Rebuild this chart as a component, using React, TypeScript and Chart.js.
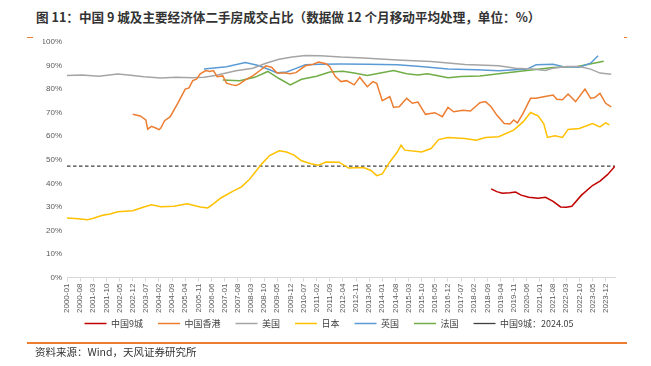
import React, { useEffect, useRef } from "react";
import { Chart, registerables } from "chart.js";

Chart.register(...registerables);

const START_YEAR = 2000;
const LAST_MONTH = "2024-05";

const tickLabels = [
  "2000-01", "2000-08", "2001-03", "2001-10", "2002-05", "2002-12", "2003-07",
  "2004-02", "2004-09", "2005-04", "2005-11", "2006-06", "2007-01", "2007-08",
  "2008-03", "2008-10", "2009-05", "2009-12", "2010-07", "2011-02", "2011-09",
  "2012-04", "2012-11", "2013-06", "2014-01", "2014-08", "2015-03", "2015-10",
  "2016-05", "2016-12", "2017-07", "2018-02", "2018-09", "2019-04", "2019-11",
  "2020-06", "2021-01", "2021-08", "2022-03", "2022-10", "2023-05", "2023-12",
];

const yTicks = [0, 10, 20, 30, 40, 50, 60, 70, 80, 90, 100];

// 中国9城
const cnDates = ["2018-11", "2019-02", "2019-05", "2019-09", "2019-12", "2020-03", "2020-07", "2020-12", "2021-04", "2021-08", "2021-12", "2022-03", "2022-06", "2022-11", "2023-05", "2023-09", "2024-01", "2024-05"];
const cnValues = [37.7, 36.5, 35.8, 36.0, 36.3, 35.0, 34.1, 33.7, 34.1, 32.4, 30.0, 29.9, 30.3, 34.9, 39.1, 41.0, 43.7, 47.3];

// 中国香港
const hkDates = ["2002-12", "2003-04", "2003-07", "2003-08", "2003-10", "2003-12", "2004-02", "2004-03", "2004-05", "2004-08", "2004-12", "2005-04", "2005-06", "2005-08", "2005-10", "2005-12", "2006-03", "2006-05", "2006-07", "2006-09", "2006-12", "2007-02", "2007-05", "2007-07", "2007-09", "2007-12", "2008-04", "2008-08", "2008-11", "2009-02", "2009-05", "2009-09", "2009-12", "2010-03", "2010-08", "2010-12", "2011-03", "2011-07", "2011-09", "2011-12", "2012-03", "2012-06", "2012-10", "2013-01", "2013-05", "2013-08", "2013-10", "2014-01", "2014-05", "2014-07", "2014-10", "2015-02", "2015-05", "2015-08", "2015-12", "2016-05", "2016-09", "2016-12", "2017-03", "2017-08", "2017-12", "2018-05", "2018-08", "2018-11", "2019-02", "2019-06", "2019-09", "2019-11", "2020-01", "2020-04", "2020-08", "2020-11", "2021-03", "2021-08", "2021-10", "2022-01", "2022-04", "2022-08", "2023-01", "2023-04", "2023-06", "2023-09", "2023-12", "2024-03"];
const hkValues = [69.3, 68.6, 66.9, 63.0, 64.2, 63.6, 62.8, 63.5, 66.6, 68.3, 74.0, 80.0, 80.5, 83.6, 84.2, 86.5, 87.9, 87.5, 87.9, 85.3, 85.6, 82.5, 81.8, 81.5, 82.2, 83.9, 85.6, 88.0, 89.9, 89.3, 86.8, 86.8, 86.5, 87.0, 89.9, 90.5, 91.5, 90.8, 89.5, 85.3, 83.2, 83.6, 81.8, 85.0, 81.0, 83.2, 82.5, 75.1, 76.8, 72.3, 72.5, 76.1, 74.0, 74.5, 69.3, 70.0, 68.3, 72.3, 70.4, 71.0, 70.7, 74.2, 74.7, 72.5, 69.0, 65.4, 65.2, 66.9, 65.7, 69.7, 76.1, 76.1, 76.8, 77.5, 75.7, 75.5, 77.9, 74.7, 80.0, 76.1, 76.3, 78.2, 74.0, 72.5];

// 美国
const usDates = ["2000-01", "2000-09", "2001-06", "2002-04", "2002-11", "2003-06", "2004-03", "2004-11", "2005-08", "2006-02", "2006-08", "2007-07", "2008-04", "2008-11", "2009-06", "2010-01", "2010-08", "2011-04", "2012-03", "2013-03", "2014-09", "2016-03", "2017-09", "2019-03", "2019-12", "2020-09", "2021-04", "2021-08", "2022-03", "2022-10", "2023-04", "2023-09", "2024-03"];
const usValues = [85.8, 86.0, 85.5, 86.4, 85.9, 85.3, 84.7, 85.0, 84.8, 85.0, 85.8, 87.8, 88.9, 91.0, 92.7, 93.6, 94.3, 94.2, 93.6, 93.2, 92.4, 91.7, 90.5, 89.9, 88.9, 88.5, 87.9, 88.9, 89.6, 89.6, 88.5, 86.8, 86.3];

// 日本
const jpDates = ["2000-01", "2000-07", "2000-12", "2001-03", "2001-08", "2001-12", "2002-04", "2002-12", "2003-06", "2003-10", "2004-03", "2004-10", "2005-05", "2005-12", "2006-04", "2006-07", "2006-11", "2007-05", "2007-10", "2008-02", "2008-05", "2008-09", "2009-01", "2009-06", "2009-10", "2010-02", "2010-06", "2010-11", "2011-03", "2011-07", "2012-02", "2012-07", "2013-03", "2013-07", "2013-10", "2014-01", "2014-05", "2014-09", "2014-11", "2015-01", "2015-10", "2016-03", "2016-07", "2016-12", "2017-09", "2018-03", "2018-08", "2019-03", "2019-11", "2020-04", "2020-08", "2020-12", "2021-03", "2021-05", "2021-09", "2022-01", "2022-04", "2022-10", "2023-05", "2023-09", "2023-12", "2024-02"];
const jpValues = [25.3, 25.0, 24.6, 25.2, 26.5, 27.0, 28.0, 28.4, 30.0, 30.9, 30.1, 30.3, 31.3, 30.0, 29.6, 31.3, 33.8, 36.5, 38.5, 41.5, 44.5, 48.5, 51.8, 53.8, 53.3, 52.0, 49.6, 48.3, 47.7, 49.1, 49.0, 46.5, 46.7, 45.5, 43.3, 44.0, 49.1, 53.3, 56.2, 54.1, 53.3, 54.8, 58.6, 59.5, 59.0, 58.3, 59.5, 59.8, 62.6, 66.1, 70.1, 68.7, 65.4, 59.5, 60.2, 59.5, 62.9, 63.3, 65.4, 64.0, 65.7, 64.8];

// 英国
const ukDates = ["2006-02", "2007-02", "2007-12", "2008-07", "2009-01", "2009-05", "2009-10", "2010-02", "2010-08", "2011-04", "2012-03", "2013-05", "2014-09", "2015-11", "2016-12", "2018-03", "2019-03", "2020-06", "2020-11", "2021-08", "2022-01", "2022-10", "2023-04", "2023-08"];
const ukValues = [88.5, 89.5, 91.3, 90.0, 88.2, 86.9, 87.3, 88.5, 90.3, 90.6, 90.7, 90.6, 90.3, 89.5, 88.5, 88.2, 87.8, 88.5, 90.3, 90.6, 89.6, 89.3, 91.0, 94.2];

// 法国
const frDates = ["2006-12", "2007-09", "2008-05", "2008-12", "2009-06", "2009-12", "2010-06", "2011-02", "2011-09", "2012-04", "2012-10", "2013-05", "2013-12", "2014-07", "2015-02", "2015-08", "2016-01", "2016-06", "2016-12", "2017-07", "2018-05", "2019-03", "2020-06", "2021-08", "2022-09", "2023-11"];
const frValues = [83.9, 83.6, 85.0, 87.5, 84.5, 81.8, 84.2, 85.5, 87.3, 87.6, 86.8, 85.8, 86.8, 87.9, 86.5, 86.0, 86.5, 85.8, 84.8, 85.4, 85.6, 86.5, 87.9, 89.2, 89.6, 91.8];

// 中国9城：2024.05 参考线
const refDates = ["2000-01", "2024-05"];
const refValue = 47.3;

function monthIndex(d: string): number {
  const [y, m] = d.split("-").map(Number);
  return (y - START_YEAR) * 12 + (m - 1);
}

function toPoints(dates: string[], values: number[]) {
  return dates.map((d, i) => ({ x: monthIndex(d), y: values[i] }));
}

const seriesDefs = [
  { label: "中国9城", dates: cnDates, values: cnValues, color: "#C00000" },
  { label: "中国香港", dates: hkDates, values: hkValues, color: "#ED7D31" },
  { label: "美国", dates: usDates, values: usValues, color: "#A5A5A5" },
  { label: "日本", dates: jpDates, values: jpValues, color: "#FFC000" },
  { label: "英国", dates: ukDates, values: ukValues, color: "#5B9BD5" },
  { label: "法国", dates: frDates, values: frValues, color: "#70AD47" },
];

const LEGEND_SHIFT = 11;

const legendShiftPlugin = {
  id: "legendShift",
  afterLayout(chart: any) {
    if (chart.legend) {
      chart.legend.top -= LEGEND_SHIFT;
      chart.legend.bottom -= LEGEND_SHIFT;
    }
  },
};

export default function App() {
  const canvasRef = useRef<HTMLCanvasElement | null>(null);

  useEffect(() => {
    if (!canvasRef.current) return;
    const tickValues = tickLabels.map(monthIndex);
    const datasets: any[] = seriesDefs.map((s) => ({
      label: s.label,
      data: toPoints(s.dates, s.values),
      borderColor: s.color,
      backgroundColor: s.color,
      borderWidth: 1.5,
      pointRadius: 0,
      tension: 0,
      fill: false,
    }));
    datasets.push({
      label: "中国9城：2024.05",
      data: toPoints(refDates, refDates.map(() => refValue)),
      borderColor: "#404040",
      backgroundColor: "#404040",
      borderWidth: 1.3,
      borderDash: [3.5, 2.5],
      pointRadius: 0,
      fill: false,
    });

    const chart = new Chart(canvasRef.current, {
      type: "line",
      data: { datasets },
      plugins: [legendShiftPlugin],
      options: {
        animation: false,
        responsive: false,
        maintainAspectRatio: false,
        layout: { padding: { left: 43, right: 36, top: 42, bottom: 17 } },
        scales: {
          x: {
            type: "linear",
            min: 0,
            max: monthIndex(LAST_MONTH),
            afterBuildTicks: (scale: any) => {
              scale.ticks = tickValues.map((v) => ({ value: v }));
            },
            ticks: {
              autoSkip: false,
              maxRotation: 90,
              minRotation: 90,
              padding: 2,
              color: "#595959",
              font: { size: 8, family: "Liberation Sans, Arial, sans-serif" },
              callback: (_v: any, i: number) => tickLabels[i],
            },
            grid: { display: true, drawOnChartArea: false, tickLength: 4, color: "#D9D9D9" },
            border: { display: true, color: "#D9D9D9" },
          },
          y: {
            min: 0,
            max: 100,
            afterBuildTicks: (scale: any) => {
              scale.ticks = yTicks.map((v) => ({ value: v }));
            },
            afterFit: (scale: any) => {
              scale.width = 24;
            },
            ticks: {
              padding: 5,
              color: "#595959",
              font: { size: 8, family: "Liberation Sans, Arial, sans-serif" },
              callback: (v: any) => v + "%",
            },
            grid: { display: false, drawTicks: false },
            border: { display: false },
          },
        },
        plugins: {
          legend: {
            position: "bottom",
            labels: {
              usePointStyle: true,
              pointStyle: "line",
              pointStyleWidth: 22,
              padding: 15,
              color: "#404040",
              font: { size: 9, family: "Noto Sans CJK SC, sans-serif" },
            },
          },
          tooltip: { enabled: false },
        },
      } as any,
    });
    return () => chart.destroy();
  }, []);

  return (
    <div style={{ position: "absolute", left: 0, top: 0, width: 651, height: 366, background: "#fff", overflow: "hidden" }}>
      <div
        style={{
          position: "absolute",
          left: 36,
          top: 8,
          fontFamily: "Noto Sans CJK SC, sans-serif",
          fontWeight: 700,
          fontSize: 12.6,
          color: "#333",
          whiteSpace: "nowrap",
          lineHeight: "18px",
        }}
      >
        图 11：中国 9 城及主要经济体二手房成交占比（数据做 12 个月移动平均处理，单位：%）
      </div>
      <div style={{ position: "absolute", left: 27, top: 37, width: 6, height: 1, background: "#ED7D31" }} />
      <div style={{ position: "absolute", left: 624, top: 37, width: 3, height: 1, background: "#ED7D31" }} />
      <canvas ref={canvasRef} width={651} height={366} style={{ position: "absolute", left: 0, top: 0, width: 651, height: 366 }} />
      <div style={{ position: "absolute", left: 27, top: 342, width: 600, height: 1.5, background: "#ED7D31" }} />
      <div
        style={{
          position: "absolute",
          left: 35,
          top: 345,
          fontFamily: "Noto Sans CJK SC, sans-serif",
          fontSize: 10.5,
          color: "#333",
          whiteSpace: "nowrap",
          lineHeight: "14px",
        }}
      >
        资料来源：Wind，天风证券研究所
      </div>
    </div>
  );
}
